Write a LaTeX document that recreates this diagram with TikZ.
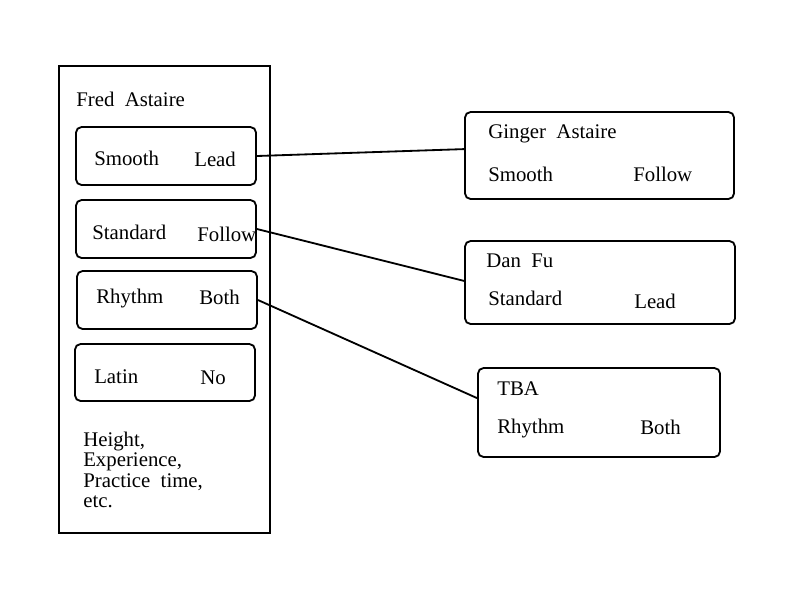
\documentclass[tikz,border=0pt]{standalone}
\usepackage{fontspec}
\setmainfont{Liberation Serif}
\usepackage{tikz}
\usetikzlibrary{positioning}

\begin{document}
\begin{tikzpicture}[
  x=0.025cm,y=-0.025cm,
  every node/.style={font=\fontsize{14.8}{16}\selectfont},
  txt/.style={anchor=west,inner sep=0pt},
  slot/.style={draw,line width=1.3pt,rounded corners=4pt,minimum width=4.5cm,minimum height=1.45cm,inner sep=0pt},
  card/.style={draw,line width=1.3pt,rounded corners=4pt,inner sep=0pt},
  link/.style={line width=1.3pt}
]
\useasboundingbox (0,0) rectangle (800,600);
% profile of the dancer
\draw[line width=1.3pt] (59,66) rectangle (270,533);
\node[txt] (name) at (76,99) {Fred\ \ Astaire};
\node[slot] (sm) at (166,156) {};
\node[slot] (st) at (166,229) {};
\node[slot] (rh) at (167,300) {};
\node[slot,minimum height=1.425cm] (la) at (165,372.5) {};
\node[txt] at (94,158) {Smooth};
\node[txt] at (194,159) {Lead};
\node[txt] at (92,232) {Standard};
\node[txt] at (197,234) {Follow};
\node[txt] at (96,299) {Rhythm};
\node[txt] at (199,297) {Both};
\node[txt] at (94,377) {Latin};
\node[txt] at (200,378) {No};
\node[txt,align=left,font=\fontsize{14.8}{14.5}\selectfont] (etc) at (83,470) {Height,\\Experience,\\Practice\ \ time,\\etc.};
% partners
\node[card,minimum width=6.725cm,minimum height=2.175cm] (gin) at (599.5,155.5) {};
\node[txt] at (488,134) {Ginger\ \ Astaire};
\node[txt] at (488,174) {Smooth};
\node[txt] at (633,174) {Follow};
\node[card,minimum width=6.75cm,minimum height=2.075cm] (dan) at (600,282.5) {};
\node[txt] at (486,261) {Dan\ \ Fu};
\node[txt] at (488,298) {Standard};
\node[txt] at (634,301) {Lead};
\node[card,minimum width=6.05cm,minimum height=2.225cm] (tba) at (599,412.5) {};
\node[txt] at (497,389) {TBA};
\node[txt] at (497,429) {Rhythm};
\node[txt] at (640,427) {Both};
% matches
\draw[link] (sm.east) -- ([yshift=0.16cm]gin.west);
\draw[link] (st.east) -- ([yshift=0.04cm]dan.west);
\draw[link] (rh.east) -- ([yshift=0.36cm]tba.west);
\end{tikzpicture}
\end{document}
